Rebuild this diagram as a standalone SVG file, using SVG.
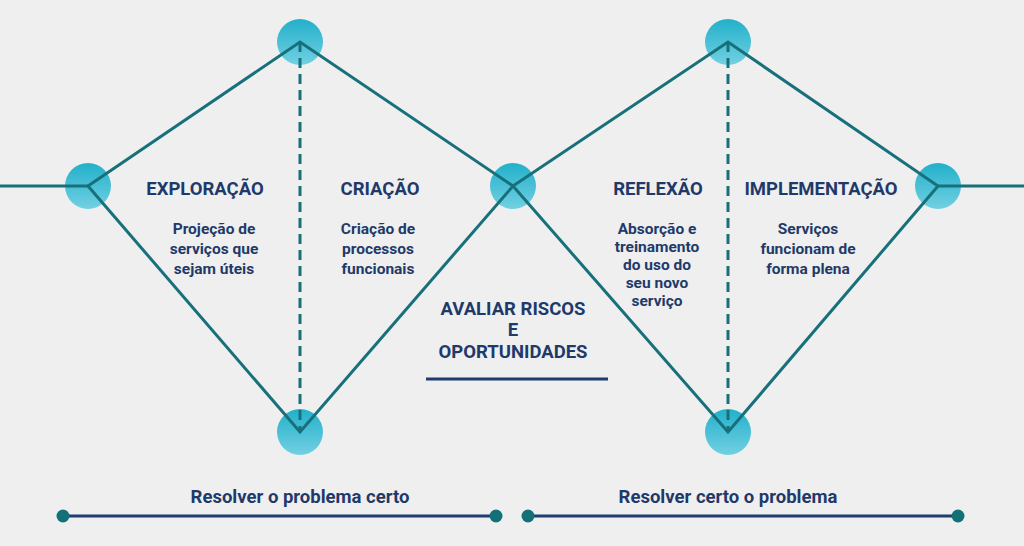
<svg xmlns="http://www.w3.org/2000/svg" width="1024" height="546" viewBox="0 0 1024 546">
<defs>
<linearGradient id="g" x1="0" y1="0" x2="0" y2="1"><stop offset="0" stop-color="#22b0ca"/><stop offset="1" stop-color="#72d0e2"/></linearGradient>
<style>
.n{fill:url(#g)}
.l{stroke:#17707a;stroke-width:3;fill:none}
.d{stroke:#17707a;stroke-width:3;stroke-dasharray:10 6;fill:none}
.t{font-family:Roboto,"Liberation Sans",sans-serif;font-weight:bold;fill:#1f3a6a;text-anchor:middle}
.h{font-size:18.5px}.b{font-size:15.5px}
.bl{stroke:#1f3d70;stroke-width:3}
.dot{fill:#137077}
</style>
</defs>
<rect width="1024" height="546" fill="#efefef"/>
<g id="n1"><circle class="n" cx="88" cy="186" r="23"/></g>
<g id="n2"><circle class="n" cx="300" cy="42" r="23"/></g>
<g id="n3"><circle class="n" cx="300" cy="432" r="23"/></g>
<g id="n4"><circle class="n" cx="513" cy="186" r="23"/></g>
<g id="n5"><circle class="n" cx="728" cy="42" r="23"/></g>
<g id="n6"><circle class="n" cx="728" cy="432" r="23"/></g>
<g id="n7"><circle class="n" cx="938" cy="186" r="23"/></g>
<g id="connectors">
<line class="l" x1="0" y1="186" x2="88" y2="186"/>
<line class="l" x1="938" y1="186" x2="1024" y2="186"/>
<polyline class="l" points="88,186 300,42 513,186 728,42 938,186 728,432 513,186 300,432 88,186"/>
<line class="d" x1="300" y1="42" x2="300" y2="432"/>
<line class="d" x1="728" y1="42" x2="728" y2="432"/>
</g>
<g id="labels">
<text class="t h" x="205" y="195">EXPLORAÇÃO</text>
<text class="t b" x="214" y="234">Projeção de</text>
<text class="t b" x="214" y="254">serviços que</text>
<text class="t b" x="214" y="274">sejam úteis</text>
<text class="t h" x="380" y="195">CRIAÇÃO</text>
<text class="t b" x="378" y="234">Criação de</text>
<text class="t b" x="378" y="254">processos</text>
<text class="t b" x="378" y="274">funcionais</text>
<text class="t h" x="658" y="195">REFLEXÃO</text>
<text class="t b" x="657" y="234">Absorção e</text>
<text class="t b" x="657" y="252">treinamento</text>
<text class="t b" x="657" y="270">do uso do</text>
<text class="t b" x="657" y="288">seu novo</text>
<text class="t b" x="657" y="306">serviço</text>
<text class="t h" x="821" y="195">IMPLEMENTAÇÃO</text>
<text class="t b" x="808" y="234">Serviços</text>
<text class="t b" x="808" y="254">funcionam de</text>
<text class="t b" x="808" y="274">forma plena</text>
<text class="t h" x="513" y="315">AVALIAR RISCOS</text>
<text class="t h" x="513" y="336">E</text>
<text class="t h" x="513" y="358">OPORTUNIDADES</text>
<text class="t h" x="300" y="503">Resolver o problema certo</text>
<text class="t h" x="728" y="503">Resolver certo o problema</text>
</g>
<line class="bl" x1="426" y1="379" x2="608" y2="379"/>
<line class="bl" x1="63" y1="516" x2="496" y2="516"/>
<line class="bl" x1="528" y1="516" x2="958" y2="516"/>
<circle class="dot" cx="63" cy="516" r="6.5"/><circle class="dot" cx="496" cy="516" r="6.5"/>
<circle class="dot" cx="528" cy="516" r="6.5"/><circle class="dot" cx="958" cy="516" r="6.5"/>
</svg>
